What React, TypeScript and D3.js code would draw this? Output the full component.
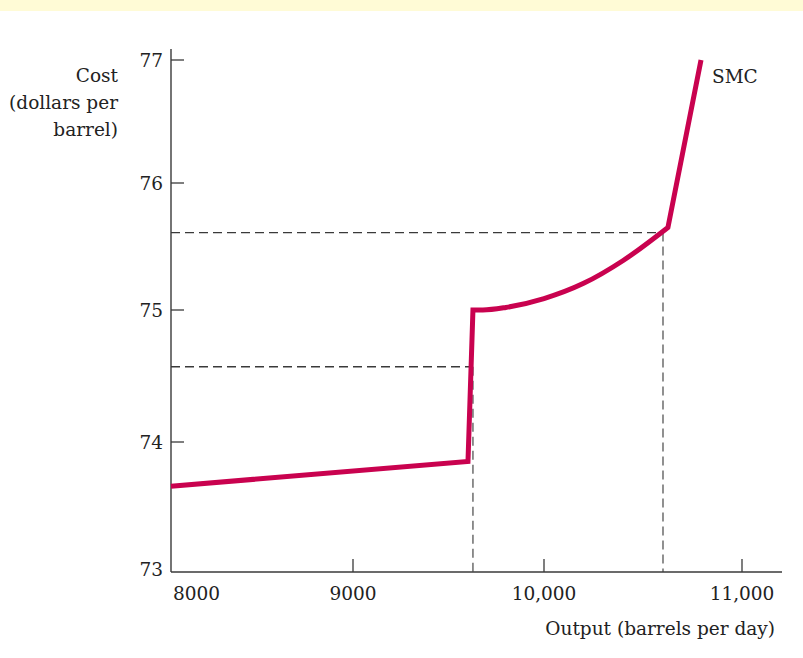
import React from "react";
import * as d3 from "d3";

// ---- data ----
const outputQ: number[] = [8047, 9602, 9628, 9680, 9800, 10000, 10200, 10400, 10626, 10793];
const costSMC: number[] = [73.66, 73.85, 75.0, 75.0, 75.02, 75.09, 75.21, 75.39, 75.65, 77.0];

const guideQ: number[] = [9628, 10601];
const guideCost: number[] = [74.57, 75.61];

const xTickValues: number[] = [9000, 10000, 11000];
const xTickLabels: string[] = ["8000", "9000", "10,000", "11,000"];
const xLabelValues: number[] = [8000, 9000, 10000, 11000];
const yTickValues: number[] = [73, 74, 75, 76, 77];
const yTickLabels: string[] = ["73", "74", "75", "76", "77"];

const yTitle: string[] = ["Cost", "(dollars per", "barrel)"];
const xTitle = "Output (barrels per day)";
const curveLabel = "SMC";

// ---- layout ----
const W = 803;
const H = 658;
const left = 171;
const right = 782;
const bottom = 572;
const top = 49;
const FONT = "'DejaVu Serif', serif";
const FS = 18.5;
const RED = "#C9024F";
const AX = "#3a3a3a";

const x = d3.scaleLinear().domain([9000, 10000, 11000]).range([353, 544, 742]);
const y = d3.scaleLinear().domain([73, 74, 75, 76, 77]).range([572, 442, 310, 183, 60]);

function stripMove(s: string): string {
  // drop the initial "Mx,y" so the segment continues the previous one
  const m = s.search(/[CLQ]/);
  return m >= 0 ? s.slice(m) : "";
}

export default function App() {
  const pts: [number, number][] = outputQ.map((q, i) => [q, costSMC[i]]);
  const lin = d3
    .line<[number, number]>()
    .x((d) => x(d[0]))
    .y((d) => y(d[1]))
    .curve(d3.curveLinear);
  const smooth = d3
    .line<[number, number]>()
    .x((d) => x(d[0]))
    .y((d) => y(d[1]))
    .curve(d3.curveMonotoneX);

  const n = pts.length;
  const part1 = lin(pts.slice(0, 3)) || "";
  const part2 = stripMove(smooth(pts.slice(2, n - 1)) || "");
  const part3 = stripMove(lin(pts.slice(n - 2)) || "");
  const d = part1 + part2 + part3;

  return (
    <svg
      width={W}
      height={H}
      style={{ position: "absolute", left: 0, top: 0, background: "#fff" }}
      fontFamily={FONT}
    >
      <rect x={0} y={0} width={W} height={11} fill="#FFFBD6" />

      {/* guide dashed lines */}
      {guideQ.map((q, i) => (
        <g key={"g" + i} stroke={AX} strokeWidth={1.3} strokeDasharray="9,5" fill="none">
          <line x1={left} x2={x(q)} y1={y(guideCost[i])} y2={y(guideCost[i])} />
          <line x1={x(q)} x2={x(q)} y1={y(guideCost[i])} y2={bottom} stroke="#555" />
        </g>
      ))}

      {/* axes */}
      <line x1={left} x2={left} y1={top} y2={bottom} stroke={AX} strokeWidth={1.4} />
      <line x1={left} x2={right} y1={bottom} y2={bottom} stroke={AX} strokeWidth={1.4} />

      {yTickValues.slice(1).map((v) => (
        <line key={"yt" + v} x1={left} x2={left + 13} y1={y(v)} y2={y(v)} stroke={AX} strokeWidth={1.3} />
      ))}
      {xTickValues.map((v) => (
        <line key={"xt" + v} x1={x(v)} x2={x(v)} y1={bottom} y2={bottom - 13} stroke={AX} strokeWidth={1.3} />
      ))}

      {yTickValues.map((v, i) => (
        <text key={"yl" + v} x={163} y={y(v) + (v === 73 ? 4 : 7)} textAnchor="end" fontSize={FS} fill="#222">
          {yTickLabels[i]}
        </text>
      ))}
      {xLabelValues.map((v, i) =>
        v === 8000 ? (
          <text key={"xl" + v} x={left + 2} y={600} textAnchor="start" fontSize={FS} fill="#222">
            {xTickLabels[i]}
          </text>
        ) : (
          <text key={"xl" + v} x={x(v)} y={600} textAnchor="middle" fontSize={FS} fill="#222">
            {xTickLabels[i]}
          </text>
        )
      )}

      {/* titles */}
      {yTitle.map((t, i) => (
        <text key={"ytt" + i} x={118} y={82 + i * 27} textAnchor="end" fontSize={FS} fill="#222">
          {t}
        </text>
      ))}
      <text x={775} y={635} textAnchor="end" fontSize={FS} fill="#222">
        {xTitle}
      </text>

      {/* SMC curve */}
      <path d={d} fill="none" stroke={RED} strokeWidth={5} strokeLinejoin="miter" strokeLinecap="butt" />
      <text x={712} y={83} fontSize={FS} fill="#222">
        {curveLabel}
      </text>
    </svg>
  );
}
